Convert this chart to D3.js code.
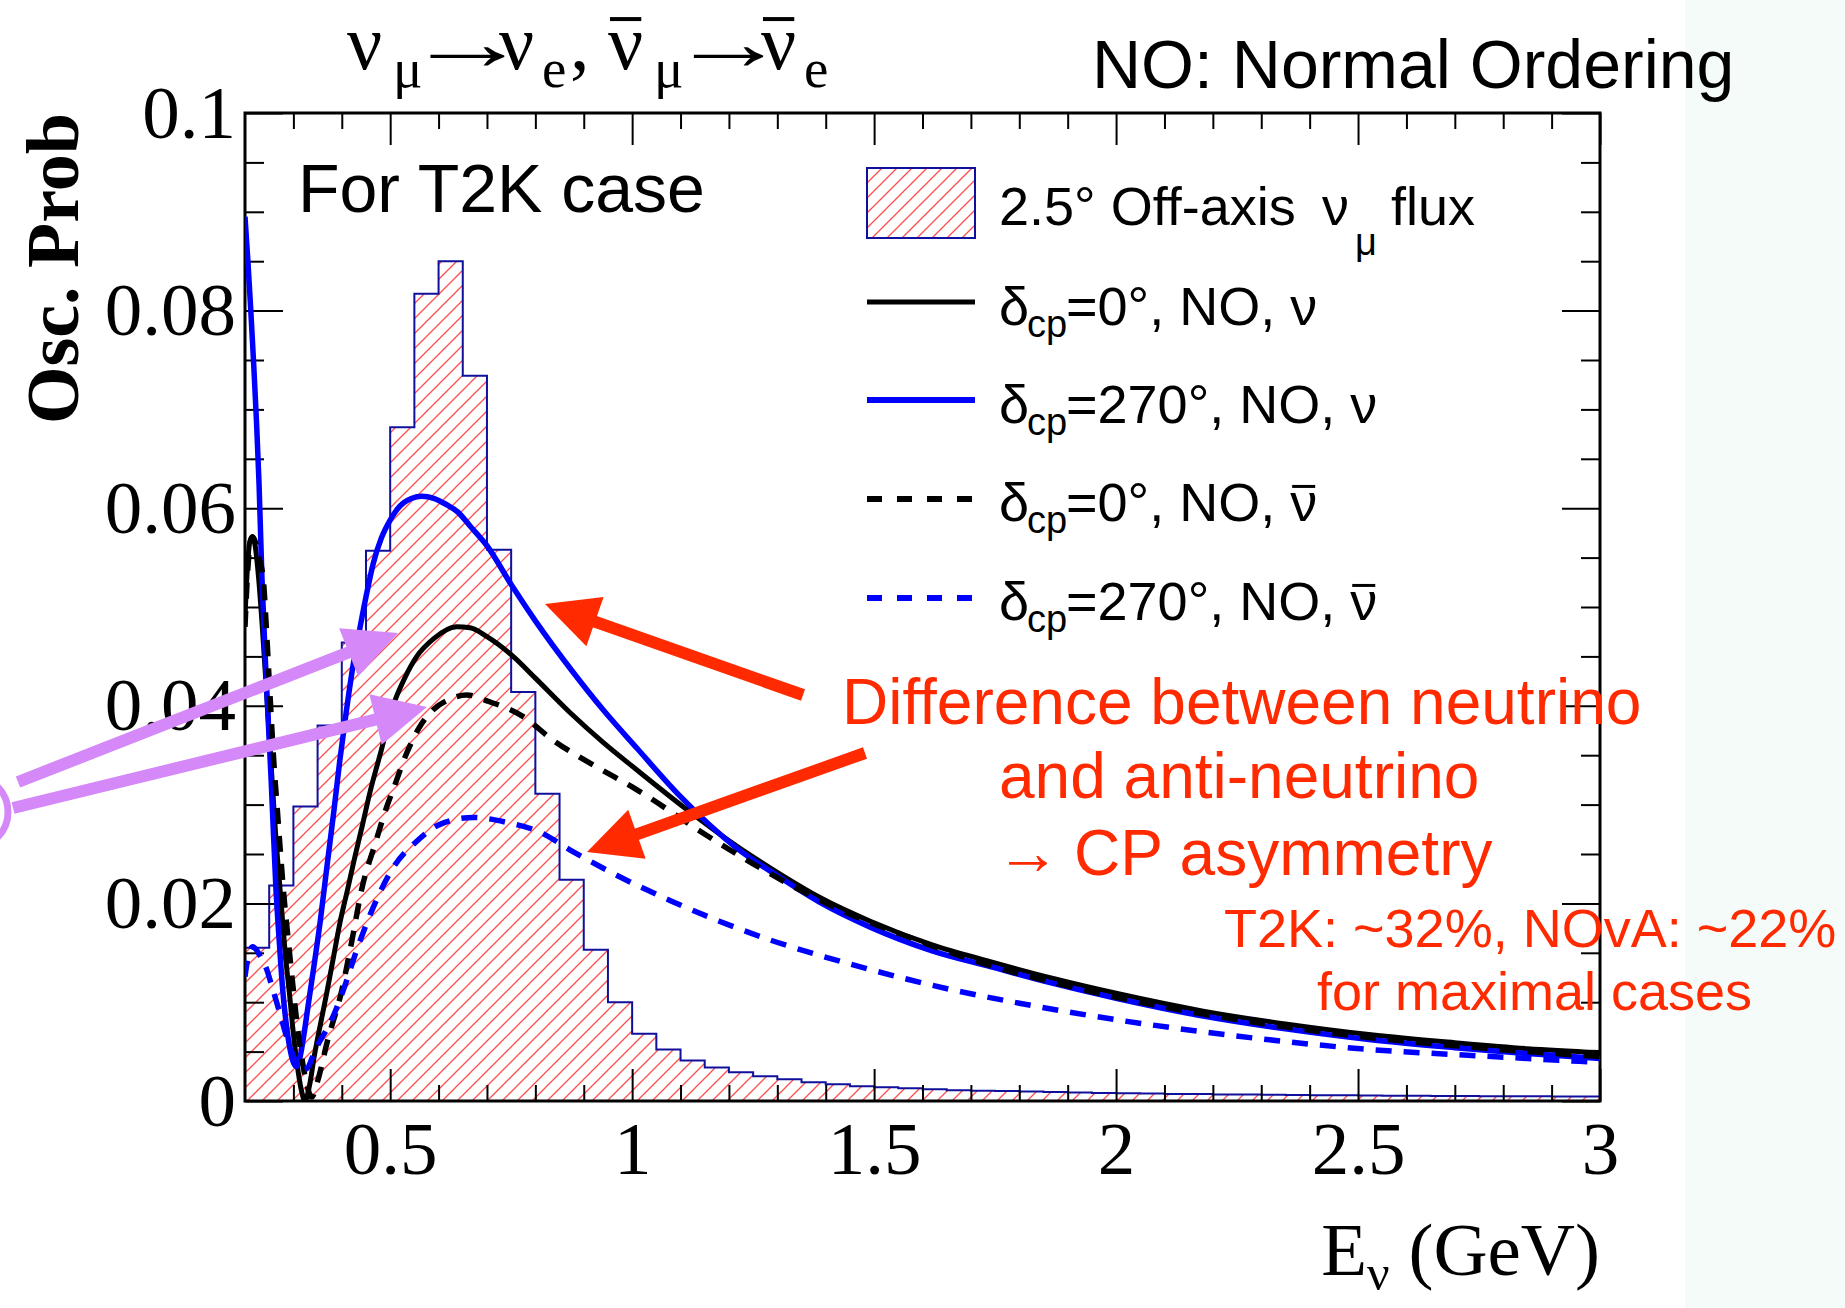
<!DOCTYPE html>
<html>
<head>
<meta charset="utf-8">
<script src="https://cdn.jsdelivr.net/npm/d3@7"></script>
<style>
  body { margin: 0; background: #ffffff; }
  svg { display: block; }
</style>
</head>
<body>
<div id="chart"></div>
<script>
var margin = { top: 113, left: 245 },
    width = 1355,
    height = 988;

// flux histogram, 0.05 GeV bins
var fluxEdges = [0.20,0.25,0.30,0.35,0.40,0.45,0.50,0.55,0.60,0.65,0.70,0.75,0.80,0.85,0.90,0.95,
  1.00,1.05,1.10,1.15,1.20,1.25,1.30,1.35,1.40,1.45,1.50,1.55,1.60,1.65,1.70,1.75,1.80,1.85,1.90,1.95,
  2.00,2.05,2.10,2.15,2.20,2.25,2.30,2.35,2.40,2.45,2.50,2.55,2.60,2.65,2.70,2.75,2.80,2.85,2.90,2.95,3.00];
var fluxValues = [0.0155,0.0218,0.0298,0.0380,0.0464,0.0557,0.0682,0.0817,0.0850,0.0734,0.0558,0.0414,
  0.0311,0.0224,0.0153,0.0100,0.0068,0.0052,0.0041,0.0034,0.0029,0.0025,0.0022,0.0019,0.0017,0.0015,
  0.0014,0.0013,0.0012,0.0011,0.00105,0.0010,0.00095,0.0009,0.00086,0.00082,0.00078,0.00075,0.00072,
  0.0007,0.00067,0.00065,0.00063,0.00061,0.00059,0.00057,0.00055,0.00054,0.00052,0.00051,0.0005,
  0.00049,0.00048,0.00047,0.00046,0.00045];

// oscillation probability curves [E (GeV), P]
var nuD0 = [[0.200,0.0490],[0.205,0.0540],[0.210,0.0566],[0.215,0.0571],[0.221,0.0562],[0.228,0.0530],
  [0.236,0.0478],[0.245,0.0410],[0.254,0.0340],[0.263,0.0272],[0.274,0.0205],[0.283,0.0150],[0.292,0.0108],
  [0.300,0.0068],[0.308,0.0036],[0.316,0.0012],[0.324,0.0000],[0.333,0.0015],[0.343,0.0045],[0.356,0.0078],
  [0.370,0.0112],[0.383,0.0146],[0.396,0.0180],[0.412,0.0214],[0.427,0.0247],[0.443,0.0280],[0.458,0.0312],
  [0.480,0.0352],[0.506,0.0400],[0.530,0.0428],[0.555,0.0450],[0.590,0.0468],[0.637,0.0480],[0.665,0.0479],
  [0.700,0.0470],[0.754,0.0450],[0.800,0.0428],[0.872,0.0393],[0.940,0.0363],[1.010,0.0335],[1.113,0.0295],
  [1.216,0.0258],[1.285,0.0236],[1.388,0.0206],[1.492,0.0182],[1.620,0.0158],[1.740,0.0141],[1.870,0.0124],
  [2.000,0.0109],[2.180,0.0091],[2.350,0.0078],[2.527,0.0067],[2.700,0.0059],[2.850,0.0053],[3.000,0.0049]];
var nuD270 = [[0.200,0.0895],[0.206,0.0850],[0.212,0.0800],[0.218,0.0745],[0.224,0.0685],[0.229,0.0625],
  [0.235,0.0530],[0.244,0.0426],[0.254,0.0325],[0.264,0.0214],[0.271,0.0160],[0.278,0.0112],[0.286,0.0075],
  [0.295,0.0048],[0.301,0.0038],[0.307,0.0035],[0.314,0.0045],[0.322,0.0068],[0.330,0.0095],[0.342,0.0135],
  [0.355,0.0180],[0.370,0.0240],[0.384,0.0295],[0.396,0.0345],[0.409,0.0393],[0.423,0.0440],[0.438,0.0480],
  [0.452,0.0515],[0.465,0.0544],[0.482,0.0570],[0.500,0.0588],[0.520,0.0602],[0.545,0.0610],[0.565,0.0612],
  [0.590,0.0610],[0.615,0.0604],[0.640,0.0596],[0.665,0.0582],[0.700,0.0562],[0.751,0.0522],[0.800,0.0486],
  [0.878,0.0434],[0.940,0.0396],[1.010,0.0357],[1.100,0.0308],[1.216,0.0256],[1.300,0.0228],[1.388,0.0201],
  [1.492,0.0176],[1.620,0.0152],[1.740,0.0136],[1.870,0.0119],[2.000,0.0104],[2.180,0.0086],[2.350,0.0073],
  [2.527,0.0062],[2.700,0.0054],[2.850,0.0048],[3.000,0.0043]];
var nubarD0 = [[0.200,0.0480],[0.206,0.0540],[0.211,0.0566],[0.216,0.0571],[0.222,0.0565],[0.229,0.0550],
  [0.238,0.0527],[0.244,0.0480],[0.250,0.0426],[0.260,0.0340],[0.266,0.0300],[0.272,0.0260],[0.280,0.0210],
  [0.290,0.0160],[0.300,0.0112],[0.309,0.0072],[0.317,0.0045],[0.327,0.0018],[0.338,0.0004],[0.350,0.0020],
  [0.370,0.0060],[0.400,0.0112],[0.420,0.0160],[0.441,0.0214],[0.470,0.0262],[0.493,0.0298],[0.506,0.0315],
  [0.534,0.0352],[0.560,0.0378],[0.589,0.0396],[0.620,0.0406],[0.658,0.0411],[0.700,0.0405],[0.775,0.0389],
  [0.837,0.0365],[0.920,0.0340],[1.010,0.0315],[1.147,0.0271],[1.250,0.0240],[1.353,0.0212],[1.460,0.0187],
  [1.560,0.0168],[1.733,0.0138],[1.870,0.0120],[2.000,0.0105],[2.180,0.0088],[2.350,0.0075],[2.527,0.0064],
  [2.700,0.0056],[2.850,0.0050],[3.000,0.0045]];
var nubarD270 = [[0.200,0.0126],[0.205,0.0142],[0.210,0.0152],[0.216,0.0156],[0.222,0.0154],[0.232,0.0146],
  [0.245,0.0133],[0.255,0.0117],[0.266,0.0099],[0.276,0.0082],[0.286,0.0065],[0.297,0.0049],[0.307,0.0038],
  [0.317,0.0032],[0.328,0.0033],[0.340,0.0045],[0.352,0.0058],[0.376,0.0079],[0.403,0.0112],[0.431,0.0153],
  [0.465,0.0196],[0.506,0.0236],[0.555,0.0263],[0.603,0.0280],[0.672,0.0287],[0.741,0.0282],[0.810,0.0272],
  [0.872,0.0254],[0.970,0.0228],[1.078,0.0203],[1.180,0.0182],[1.285,0.0163],[1.390,0.0147],[1.492,0.0133],
  [1.657,0.0113],[1.800,0.0099],[2.004,0.0082],[2.180,0.0070],[2.353,0.0060],[2.527,0.0052],[2.700,0.0047],
  [2.850,0.0043],[3.000,0.0039]];

var xMajor = [0.5, 1, 1.5, 2, 2.5, 3];
var xTickLabels = ["0.5", "1", "1.5", "2", "2.5", "3"];
var xMinor = [0.3,0.4,0.6,0.7,0.8,0.9,1.1,1.2,1.3,1.4,1.6,1.7,1.8,1.9,2.1,2.2,2.3,2.4,2.6,2.7,2.8,2.9];
var yMajor = [0, 0.02, 0.04, 0.06, 0.08, 0.1];
var yTickLabels = ["0", "0.02", "0.04", "0.06", "0.08", "0.1"];
var yMinor = [0.005,0.01,0.015,0.025,0.03,0.035,0.045,0.05,0.055,0.065,0.07,0.075,0.085,0.09,0.095];

var serif = "'Liberation Serif', 'Times New Roman', serif";
var sans = "'Liberation Sans', Arial, Helvetica, sans-serif";
var red = "#ff2a00", purple = "#d588f8", navy = "#10109c";

var svg = d3.select("#chart").append("svg")
    .attr("width", 1845)
    .attr("height", 1308);

svg.append("rect").attr("width", 1845).attr("height", 1308).attr("fill", "#ffffff");
svg.append("rect").attr("x", 1685).attr("width", 160).attr("height", 1308).attr("fill", "#f4fbf8");

var defs = svg.append("defs");
var pat = defs.append("pattern")
    .attr("id", "hatch")
    .attr("patternUnits", "userSpaceOnUse")
    .attr("width", 15)
    .attr("height", 15);
pat.append("path")
    .attr("d", "M-2,2 l4,-4 M0,15 l15,-15 M13,17 l4,-4")
    .attr("stroke", "#ff4c4c")
    .attr("stroke-width", 1.3);
defs.append("clipPath").attr("id", "plotClip")
  .append("rect").attr("width", width).attr("height", height);

var x = d3.scaleLinear().domain([0.2, 3]).range([0, width]);
var y = d3.scaleLinear().domain([0, 0.1]).range([height, 0]);

var g = svg.append("g")
    .attr("transform", "translate(" + margin.left + "," + margin.top + ")");

// histogram
var histPts = [[x(fluxEdges[0]), y(0)]];
fluxValues.forEach(function(v, i) {
  histPts.push([x(fluxEdges[i]), y(v)]);
  histPts.push([x(fluxEdges[i + 1]), y(v)]);
});
histPts.push([x(fluxEdges[fluxEdges.length - 1]), y(0)]);
g.append("path")
    .attr("d", d3.line()(histPts))
    .attr("fill", "url(#hatch)")
    .attr("stroke", navy)
    .attr("stroke-width", 2);

// red annotation text (sits under the axis ticks)
var ann = svg.append("g").attr("font-family", sans).attr("fill", red);
ann.append("text").attr("x", 842).attr("y", 724).attr("font-size", 64).text("Difference between neutrino");
ann.append("text").attr("x", 999).attr("y", 798).attr("font-size", 64).text("and anti-neutrino");
ann.append("text").attr("x", 996).attr("y", 874).attr("font-size", 64).text("→");
ann.append("text").attr("x", 1074).attr("y", 875).attr("font-size", 64).text("CP asymmetry");
ann.append("text").attr("x", 1224).attr("y", 947).attr("font-size", 54).text("T2K: ~32%, NOvA: ~22%");
ann.append("text").attr("x", 1317).attr("y", 1010).attr("font-size", 54).text("for maximal cases");

// axes, ROOT style: ticks on all four sides pointing inward
function styleAxis(sel) {
  sel.select(".domain").remove();
  sel.selectAll("line").attr("stroke", "#000").attr("stroke-width", 2);
  sel.selectAll("text").attr("font-family", serif).attr("font-size", 75).attr("fill", "#000");
}
g.append("g").attr("transform", "translate(0," + height + ")")
    .call(d3.axisBottom(x).tickValues(xMinor).tickFormat("").tickSize(-16).tickSizeOuter(0)).call(styleAxis);
g.append("g").attr("transform", "translate(0," + height + ")")
    .call(d3.axisBottom(x).tickValues(xMajor).tickFormat(function(d, i) { return xTickLabels[i]; })
      .tickSize(-32).tickSizeOuter(0).tickPadding(20)).call(styleAxis);
g.append("g")
    .call(d3.axisTop(x).tickValues(xMinor).tickFormat("").tickSize(-16).tickSizeOuter(0)).call(styleAxis);
g.append("g")
    .call(d3.axisTop(x).tickValues(xMajor).tickFormat("").tickSize(-32).tickSizeOuter(0)).call(styleAxis);
g.append("g")
    .call(d3.axisLeft(y).tickValues(yMinor).tickFormat("").tickSize(-19).tickSizeOuter(0)).call(styleAxis);
g.append("g")
    .call(d3.axisLeft(y).tickValues(yMajor).tickFormat(function(d, i) { return yTickLabels[i]; })
      .tickSize(-38).tickSizeOuter(0).tickPadding(9)).call(styleAxis);
g.append("g").attr("transform", "translate(" + width + ",0)")
    .call(d3.axisRight(y).tickValues(yMinor).tickFormat("").tickSize(-19).tickSizeOuter(0)).call(styleAxis);
g.append("g").attr("transform", "translate(" + width + ",0)")
    .call(d3.axisRight(y).tickValues(yMajor).tickFormat("").tickSize(-38).tickSizeOuter(0)).call(styleAxis);
g.append("rect")
    .attr("width", width)
    .attr("height", height)
    .attr("fill", "none")
    .attr("stroke", "#000")
    .attr("stroke-width", 3);

// curves
var line = d3.line()
    .x(function(d) { return x(d[0]); })
    .y(function(d) { return y(d[1]); })
    .curve(d3.curveMonotoneX);
var curves = [
  { data: nuD0, color: "#000000", w: 5, dash: null },
  { data: nuD270, color: "#0000ff", w: 5.5, dash: null },
  { data: nubarD0, color: "#000000", w: 5.5, dash: "16,12" },
  { data: nubarD270, color: "#0000ff", w: 5.5, dash: "16,12" }
];
var cg = g.append("g").attr("clip-path", "url(#plotClip)");
curves.forEach(function(c) {
  cg.append("path")
      .attr("d", line(c.data))
      .attr("fill", "none")
      .attr("stroke", c.color)
      .attr("stroke-width", c.w)
      .attr("stroke-dasharray", c.dash);
});

// draws a bar over the last character of a text element (anti-neutrino)
function barOver(t, base, size, thick) {
  var node = t.node();
  var ext = node.getExtentOfChar(node.getNumberOfChars() - 1);
  d3.select(node.parentNode).append("line")
      .attr("x1", ext.x + 2).attr("x2", ext.x + ext.width - 2)
      .attr("y1", base - size * 0.64).attr("y2", base - size * 0.64)
      .attr("stroke", "#000").attr("stroke-width", thick);
}

// title
var titleBase = 69;
var tg = svg.append("g").attr("font-family", serif).attr("fill", "#000");
var titleParts = [
  { t: "ν", x: 347 }, { t: "μ", x: 393, sub: true }, { t: "→", x: 405, arrow: 1.6 },
  { t: "ν", x: 499 }, { t: "e", x: 542, sub: true }, { t: ",", x: 570 },
  { t: "ν", x: 608, bar: true }, { t: "μ", x: 654, sub: true }, { t: "→", x: 670, arrow: 1.5 },
  { t: "ν", x: 761, bar: true }, { t: "e", x: 804, sub: true }
];
titleParts.forEach(function(p) {
  var yy = p.sub ? titleBase + 18 : titleBase;
  var t = tg.append("text")
      .attr("x", p.x)
      .attr("y", yy)
      .attr("font-size", p.sub ? 55 : 78)
      .attr("fill", "#000")
      .text(p.t);
  if (p.arrow) {
    t.attr("x", 0).attr("y", 0)
     .attr("transform", "translate(" + p.x + "," + titleBase + ") scale(" + p.arrow + ",1)");
  }
  if (p.bar) barOver(t, titleBase, 78, 4);
});

svg.append("text")
    .attr("x", 1092).attr("y", 88)
    .attr("font-family", sans).attr("font-size", 68)
    .text("NO: Normal Ordering");

svg.append("text")
    .attr("x", 298).attr("y", 212)
    .attr("font-family", sans).attr("font-size", 68)
    .text("For T2K case");

// axis titles
svg.append("text")
    .attr("transform", "translate(78,113) rotate(-90)")
    .attr("text-anchor", "end")
    .attr("font-family", serif).attr("font-weight", "bold").attr("font-size", 74)
    .text("Osc. Prob");

var xt = svg.append("text")
    .attr("x", 1600).attr("y", 1275)
    .attr("text-anchor", "end")
    .attr("font-family", serif).attr("font-size", 75);
xt.append("tspan").text("E");
xt.append("tspan").attr("dy", 15).attr("font-size", 50).text("ν");
xt.append("tspan").attr("dy", -15).text(" (GeV)");

// legend
var lg = svg.append("g").attr("font-family", sans).attr("font-size", 54).attr("fill", "#000");
lg.append("rect")
    .attr("x", 867).attr("y", 168).attr("width", 108).attr("height", 70)
    .attr("fill", "url(#hatch)").attr("stroke", navy).attr("stroke-width", 2);
lg.append("text").attr("x", 999).attr("y", 225).text("2.5° Off-axis");
lg.append("text").attr("x", 1322).attr("y", 225).text("ν");
lg.append("text").attr("x", 1355).attr("y", 255).attr("font-size", 38).text("μ");
lg.append("text").attr("x", 1391).attr("y", 225).text("flux");

var legendRows = [
  { yl: 302, yt: 325, color: "#000000", w: 5, dash: null, tail: "=0°, NO, ν", bar: false },
  { yl: 400, yt: 423, color: "#0000ff", w: 6, dash: null, tail: "=270°, NO, ν", bar: false },
  { yl: 499, yt: 521, color: "#000000", w: 6, dash: "15,15", tail: "=0°, NO, ν", bar: true },
  { yl: 598, yt: 620, color: "#0000ff", w: 6, dash: "15,15", tail: "=270°, NO, ν", bar: true }
];
legendRows.forEach(function(r) {
  lg.append("line")
      .attr("x1", 867).attr("x2", 975)
      .attr("y1", r.yl).attr("y2", r.yl)
      .attr("stroke", r.color).attr("stroke-width", r.w)
      .attr("stroke-dasharray", r.dash);
  lg.append("text").attr("x", 999).attr("y", r.yt).text("δ");
  lg.append("text").attr("x", 1027).attr("y", r.yt + 12).attr("font-size", 38).text("cp");
  var t = lg.append("text").attr("x", 1066).attr("y", r.yt).attr("fill", "#000").text(r.tail);
  if (r.bar) barOver(t, r.yt, 54, 3);
});

// arrows drawn over the plot
function arrow(x1, y1, x2, y2, color) {
  var dx = x2 - x1, dy = y2 - y1, len = Math.sqrt(dx * dx + dy * dy);
  var ux = dx / len, uy = dy / len, hl = 53, hw = 26;
  var bx = x2 - ux * hl, by = y2 - uy * hl;
  svg.append("line")
      .attr("x1", x1).attr("y1", y1).attr("x2", bx + ux * 4).attr("y2", by + uy * 4)
      .attr("stroke", color).attr("stroke-width", 12);
  svg.append("polygon")
      .attr("points", [[x2, y2], [bx - uy * hw, by + ux * hw], [bx + uy * hw, by - ux * hw]].join(" "))
      .attr("fill", color);
}
arrow(803, 695, 545, 604, red);
arrow(865, 753, 587, 852, red);
arrow(18, 782, 398, 633, purple);
arrow(13, 808, 427, 707, purple);
svg.append("circle")
    .attr("cx", -28).attr("cy", 812).attr("r", 36)
    .attr("fill", "none").attr("stroke", purple).attr("stroke-width", 7);
</script>
</body>
</html>
